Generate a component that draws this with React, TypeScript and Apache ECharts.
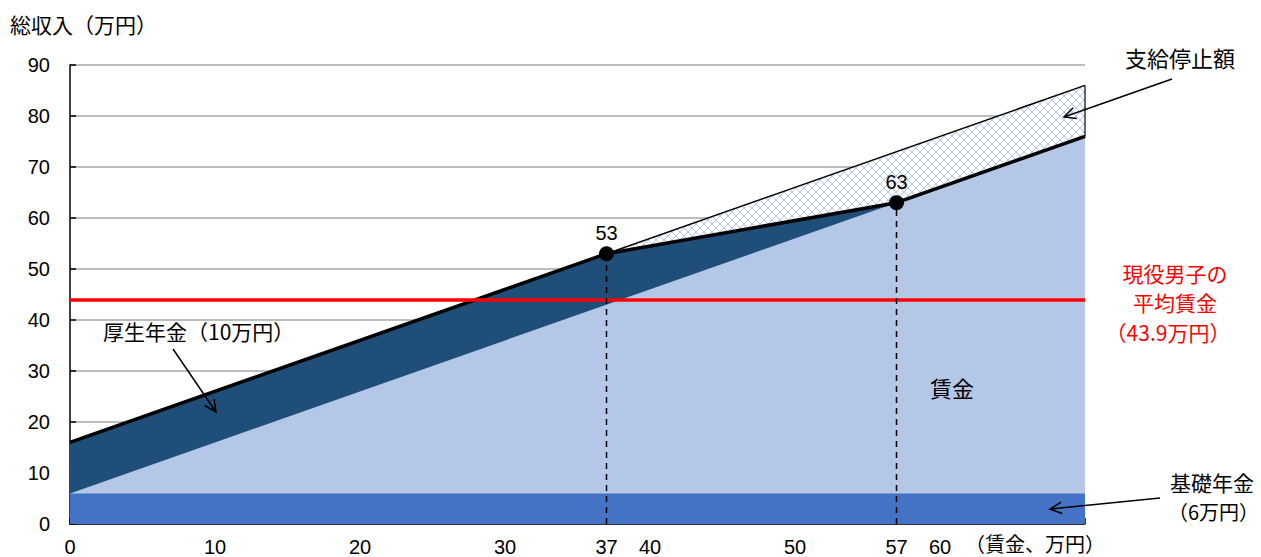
import React, { useEffect, useRef } from "react";
import * as echarts from "echarts";

// ---- data ----
const basicPension = 6; // 基礎年金
const baseX = [0, 70];
const wageTopX = [0, 70];
const wageTopY = [6, 76]; // 基礎年金 + 賃金
const totalX = [0, 37, 57, 70];
const totalY = [16, 53, 63, 76]; // 総収入
const stopX = [37, 70];
const stopTopY = [53, 86]; // 支給停止前の総額
const avgWage = 43.9;
const pointX = [37, 57];
const pointY = [53, 63];
const xLabelValues = [0, 10, 20, 30, 37, 40, 50, 57, 60];
const xTickValues = [0, 10, 20, 30, 40, 50, 60, 70];

const JP = '"Noto Sans CJK JP", "Liberation Sans", sans-serif';
const NUM = '"Liberation Sans", Arial, sans-serif';

function makeHatch(): HTMLCanvasElement {
  const c = document.createElement("canvas");
  c.width = 8;
  c.height = 8;
  const ctx = c.getContext("2d")!;
  ctx.fillStyle = "#ffffff";
  ctx.fillRect(0, 0, 8, 8);
  ctx.fillStyle = "#B3C5EA";
  for (let i = 0; i < 8; i++) {
    ctx.fillRect(i, i, 1, 1);
    ctx.fillRect(7 - i, i, 1, 1);
  }
  return c;
}

function arrow(x1: number, y1: number, x2: number, y2: number) {
  const ang = Math.atan2(y2 - y1, x2 - x1);
  const L = 13;
  const w = 0.45;
  const p1 = [x2 - L * Math.cos(ang - w), y2 - L * Math.sin(ang - w)];
  const p2 = [x2 - L * Math.cos(ang + w), y2 - L * Math.sin(ang + w)];
  return [
    { type: "line", shape: { x1, y1, x2, y2 }, style: { stroke: "#000", lineWidth: 1.5 }, z: 100 },
    { type: "polyline", shape: { points: [p1, [x2, y2], p2] }, style: { stroke: "#000", lineWidth: 1.5, fill: null }, z: 100 },
  ];
}

export default function App() {
  const ref = useRef<HTMLDivElement>(null);
  useEffect(() => {
    document.body.style.margin = "0";
    const chart = echarts.init(ref.current!, null, { renderer: "svg" });
    const hatch = makeHatch();
    const toPairs = (xs: number[], ys: number[]) => xs.map((x, i) => [x, ys[i]]);
    const option: any = {
      animation: false,
      backgroundColor: "#ffffff",
      grid: { left: 70, right: 176, top: 65, bottom: 33, containLabel: false },
      xAxis: {
        type: "value",
        min: 0,
        max: 70,
        interval: 10,
        axisLine: { lineStyle: { color: "#000", width: 1.5 } },
        axisTick: { inside: true, length: 6, customValues: xTickValues, lineStyle: { color: "#000", width: 1.5 } },
        axisLabel: { customValues: xLabelValues, color: "#000", fontSize: 20, fontFamily: NUM, margin: 13 },
        splitLine: { show: false },
      },
      yAxis: {
        type: "value",
        min: 0,
        max: 90,
        interval: 10,
        axisLine: { show: true, lineStyle: { color: "#000", width: 1.5 } },
        axisTick: { show: true, inside: true, length: 6, lineStyle: { color: "#000", width: 1.5 } },
        axisLabel: { color: "#000", fontSize: 20, fontFamily: NUM, margin: 20 },
        splitLine: { show: true, lineStyle: { color: "#A6A6A6", width: 1.5 } },
      },
      series: [
        {
          name: "支給停止額",
          type: "line",
          data: toPairs(stopX, stopTopY),
          symbol: "none",
          lineStyle: { color: "#000", width: 1.5 },
          areaStyle: { color: { image: hatch, repeat: "repeat" }, opacity: 1 },
        },
        {
          name: "停止額右端",
          type: "line",
          data: [[stopX[1], totalY[3]], [stopX[1], stopTopY[1]]],
          symbol: "none",
          lineStyle: { color: "#000", width: 1.2 },
        },
        {
          name: "厚生年金",
          type: "line",
          data: toPairs(totalX, totalY),
          symbol: "none",
          lineStyle: { width: 0 },
          areaStyle: { color: "#1F4E79", opacity: 1 },
        },
        {
          name: "賃金",
          type: "line",
          data: toPairs(wageTopX, wageTopY),
          symbol: "none",
          lineStyle: { width: 0 },
          areaStyle: { color: "#B4C7E7", opacity: 1 },
        },
        {
          name: "基礎年金",
          type: "line",
          data: baseX.map((x) => [x, basicPension]),
          symbol: "none",
          lineStyle: { width: 0 },
          areaStyle: { color: "#4472C4", opacity: 1 },
        },
        {
          name: "総収入",
          type: "line",
          data: toPairs(totalX, totalY),
          symbol: "none",
          lineStyle: { color: "#000", width: 3.5 },
          z: 5,
        },
        {
          name: "平均賃金",
          type: "line",
          data: [[0, avgWage], [70, avgWage]],
          symbol: "none",
          lineStyle: { color: "#FF0000", width: 3.5 },
          z: 6,
        },
        ...pointX.map((x, i) => ({
          name: "縦線" + i,
          type: "line",
          data: [[x, 0], [x, pointY[i]]],
          symbol: "none",
          lineStyle: { color: "#000", width: 1.5, type: [6, 5] },
          z: 7,
        })),
        {
          name: "点",
          type: "scatter",
          data: toPairs(pointX, pointY),
          symbol: "circle",
          symbolSize: 15,
          itemStyle: { color: "#000", opacity: 1 },
          label: { show: true, position: "top", distance: 3, formatter: (p: any) => String(p.value[1]), color: "#000", fontSize: 20, fontFamily: NUM },
          z: 8,
        },
      ],
      graphic: [
        { type: "text", left: 10, top: 13, style: { text: "総収入（万円）", font: `21px ${JP}`, fill: "#000" } },
        { type: "text", x: 1035, y: 543, style: { text: "（賃金、万円）", font: `20px ${JP}`, fill: "#000", align: "center", verticalAlign: "middle" }, z: 100 },
        { type: "text", x: 1180, y: 57, style: { text: "支給停止額", font: `22px ${JP}`, fill: "#000", align: "center", verticalAlign: "middle" }, z: 100 },
        ...arrow(1172, 79, 1064, 117),
        { type: "text", x: 103, y: 331, style: { text: "厚生年金（10万円）", font: `21px ${JP}`, fill: "#000", align: "left", verticalAlign: "middle" }, z: 100 },
        ...arrow(173, 349, 216, 412),
        { type: "text", x: 952, y: 387, style: { text: "賃金", font: `22px ${JP}`, fill: "#000", align: "center", verticalAlign: "middle" }, z: 100 },
        { type: "text", x: 1212, y: 482, style: { text: "基礎年金", font: `21px ${JP}`, fill: "#000", align: "center", verticalAlign: "middle" }, z: 100 },
        { type: "text", x: 1259, y: 511, style: { text: "（6万円）", font: `20px ${JP}`, fill: "#000", align: "right", verticalAlign: "middle" }, z: 100 },
        ...arrow(1160, 498, 1050, 509),
        { type: "text", x: 1175, y: 273, style: { text: "現役男子の", font: `21px ${JP}`, fill: "#FF0000", align: "center", verticalAlign: "middle" }, z: 100 },
        { type: "text", x: 1175, y: 302, style: { text: "平均賃金", font: `21px ${JP}`, fill: "#FF0000", align: "center", verticalAlign: "middle" }, z: 100 },
        { type: "text", x: 1168, y: 332, style: { text: "（43.9万円）", font: `21px ${JP}`, fill: "#FF0000", align: "center", verticalAlign: "middle" }, z: 100 },
      ],
    };
    chart.setOption(option);
    return () => chart.dispose();
  }, []);
  return <div ref={ref} style={{ width: 1261, height: 557 }} />;
}
